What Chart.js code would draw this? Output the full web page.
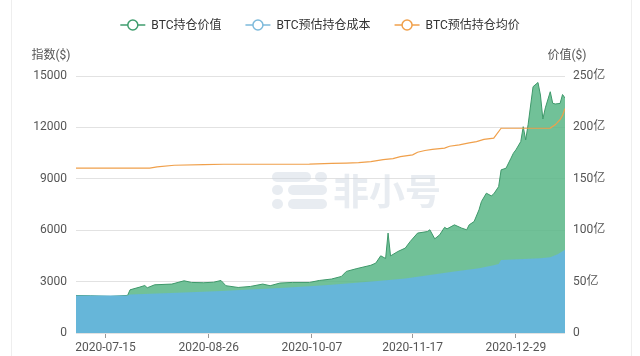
<!DOCTYPE html>
<html><head><meta charset="utf-8">
<script src="https://cdn.jsdelivr.net/npm/chart.js@4/dist/chart.umd.min.js"></script>
<style>
html,body{margin:0;padding:0;background:#fff;}
#wrap{position:relative;width:640px;height:356px;overflow:hidden;}
.edge{position:absolute;top:0;bottom:0;width:0;border-left:1px solid #eeeeee;}
canvas{position:absolute;left:0;top:0;}
</style></head>
<body><div id="wrap"><div class="edge" style="left:11px"></div><div class="edge" style="left:631px"></div><canvas id="c" width="640" height="356"></canvas></div>
<script>
// ---- data ----
const seriesNames = ['BTC持仓价值', 'BTC预估持仓成本', 'BTC预估持仓均价'];
const xTickLabels = ['2020-07-15', '2020-08-26', '2020-10-07', '2020-11-17', '2020-12-29'];
const startDate = '2020-07-03';
const endDate = '2021-01-18';

// BTC持仓价值 (亿, right axis)
const valueDates = ['2020-07-03','2020-07-09','2020-07-17','2020-07-24','2020-07-25','2020-07-29','2020-07-31','2020-08-01','2020-08-04','2020-08-11','2020-08-16','2020-08-19','2020-08-24','2020-08-28','2020-08-31','2020-09-02','2020-09-07','2020-09-12','2020-09-17','2020-09-20','2020-09-24','2020-09-29','2020-10-06','2020-10-10','2020-10-15','2020-10-19','2020-10-21','2020-10-25','2020-10-31','2020-11-02','2020-11-04','2020-11-06','2020-11-07','2020-11-08','2020-11-11','2020-11-14','2020-11-16','2020-11-19','2020-11-23','2020-11-24','2020-11-26','2020-11-28','2020-11-30','2020-12-01','2020-12-04','2020-12-07','2020-12-09','2020-12-10','2020-12-12','2020-12-14','2020-12-15','2020-12-17','2020-12-19','2020-12-20','2020-12-22','2020-12-23','2020-12-25','2020-12-27','2020-12-28','2020-12-29','2020-12-31','2021-01-01','2021-01-02','2021-01-03','2021-01-05','2021-01-07','2021-01-08','2021-01-09','2021-01-10','2021-01-12','2021-01-13','2021-01-14','2021-01-16','2021-01-17','2021-01-18'];
const valueData = [36.5,36.2,35.6,36.6,42.0,44.7,46.2,44.0,46.9,47.6,50.8,49.2,48.9,49.4,51.1,46.0,44.3,45.3,47.6,46.0,48.6,49.2,49.2,51.1,52.5,55.0,59.9,62.5,65.9,68.0,75.1,72.5,97.2,75.0,79.3,82.6,89.0,97.2,98.7,100.4,91.6,95.5,102.8,101.3,105.2,102.0,100.4,105.2,108.4,119.8,127.9,136.0,133.4,135.3,142.4,158.7,160.3,170.0,174.9,178.1,186.2,200.7,187.8,203.0,239.6,243.7,231.5,208.2,219.0,234.7,223.5,222.8,223.3,232.0,228.6];

// BTC预估持仓成本 (亿, right axis)
const costDates = ['2020-07-03','2020-07-24','2020-07-25','2020-08-16','2020-08-31','2020-09-12','2020-09-24','2020-10-06','2020-10-15','2020-10-25','2020-11-04','2020-11-14','2020-11-24','2020-12-04','2020-12-14','2020-12-20','2020-12-22','2020-12-23','2021-01-08','2021-01-12','2021-01-15','2021-01-18'];
const costData = [36.6,36.5,37.5,39.5,40.8,42.3,43.8,45.5,47.0,48.8,50.8,53.0,56.5,59.8,63.0,66.0,67.0,71.0,72.8,73.8,76.5,80.9];

// BTC预估持仓均价 ($, left axis)
const avgDates = ['2020-07-03','2020-08-02','2020-08-05','2020-08-12','2020-08-24','2020-09-01','2020-10-06','2020-10-15','2020-10-21','2020-10-26','2020-10-31','2020-11-05','2020-11-09','2020-11-12','2020-11-17','2020-11-19','2020-11-22','2020-11-25','2020-11-30','2020-12-02','2020-12-06','2020-12-10','2020-12-13','2020-12-16','2020-12-20','2020-12-23','2021-01-12','2021-01-14','2021-01-16','2021-01-17','2021-01-18'];
const avgData = [9620,9620,9700,9790,9830,9850,9860,9900,9920,9940,10000,10120,10180,10290,10400,10550,10650,10720,10790,10900,10980,11100,11170,11300,11370,11950,11960,12150,12450,12700,13100];

// ---- helpers ----
const DAY = 86400000;
const t0 = Date.parse(startDate);
const dayOf = d => Math.round((Date.parse(d) - t0) / DAY);
const toPoints = (dates, vals) => dates.map((d, i) => ({x: dayOf(d), y: vals[i]}));
const labelByDay = {};
xTickLabels.forEach(d => { labelByDay[dayOf(d)] = d; });

const FONT = "Roboto, 'Noto Sans CJK SC', 'Noto Sans', sans-serif";
const legendColors = ['#3f9d6e', '#7dbadb', '#f0a04b'];

function pill(ctx, x, y, w, h) {
  const r = h / 2;
  ctx.beginPath();
  ctx.moveTo(x + r, y);
  ctx.lineTo(x + w - r, y);
  ctx.arc(x + w - r, y + r, r, -Math.PI / 2, Math.PI / 2);
  ctx.lineTo(x + r, y + h);
  ctx.arc(x + r, y + r, r, Math.PI / 2, Math.PI * 1.5);
  ctx.closePath();
  ctx.fill();
}

const decor = {
  id: 'decor',
  beforeDatasetsDraw(chart) {
    const ctx = chart.ctx;
    ctx.save();
    ctx.fillStyle = 'rgba(205,212,224,0.45)';
    pill(ctx, 272, 172, 39, 10);
    pill(ctx, 315, 172, 12, 10);
    pill(ctx, 272, 185, 11, 10);
    pill(ctx, 288, 185, 39, 10);
    pill(ctx, 272, 199, 11, 10);
    pill(ctx, 288, 199, 39, 10);
    ctx.font = "bold 36px 'Noto Sans CJK SC', sans-serif";
    ctx.textAlign = 'left';
    ctx.textBaseline = 'middle';
    ctx.fillText('非小号', 333, 191);
    ctx.restore();
  },
  afterDraw(chart) {
    const ctx = chart.ctx;
    ctx.save();
    ctx.font = '12px ' + FONT;
    ctx.fillStyle = '#555';
    ctx.textBaseline = 'middle';
    ctx.textAlign = 'center';
    ctx.fillText('指数($)', 51, 56);
    ctx.fillText('价值($)', 567, 56);
    // legend
    ctx.font = '12px ' + FONT;
    const gap = 24, box = 25, sp = 6;
    const widths = seriesNames.map(n => box + sp + ctx.measureText(n).width);
    const total = widths.reduce((a, b) => a + b, 0) + gap * (seriesNames.length - 1);
    let x = (chart.width - total) / 2;
    const y = 25;
    seriesNames.forEach((n, i) => {
      ctx.strokeStyle = legendColors[i];
      ctx.lineWidth = 1.5;
      ctx.beginPath(); ctx.moveTo(x, y); ctx.lineTo(x + box, y); ctx.stroke();
      ctx.beginPath(); ctx.arc(x + box / 2, y, 5, 0, Math.PI * 2);
      ctx.fillStyle = '#fff'; ctx.fill(); ctx.stroke();
      ctx.fillStyle = '#333';
      ctx.textAlign = 'left';
      ctx.fillText(n, x + box + sp, y + 0.5);
      x += widths[i] + gap;
    });
    ctx.restore();
  }
};

new Chart(document.getElementById('c'), {
  type: 'line',
  data: {
    datasets: [
      {
        label: seriesNames[2], data: toPoints(avgDates, avgData), yAxisID: 'y',
        borderColor: '#f0a04b', borderWidth: 1.2, fill: false, order: 0
      },
      {
        label: seriesNames[1], data: toPoints(costDates, costData), yAxisID: 'y1',
        borderColor: 'rgb(102,182,217)', borderWidth: 0, backgroundColor: 'rgb(102,182,217)',
        fill: 'origin', order: 1
      },
      {
        label: seriesNames[0], data: toPoints(valueDates, valueData), yAxisID: 'y1',
        borderColor: 'rgb(62,152,106)', borderWidth: 1, backgroundColor: 'rgba(88,182,134,0.85)',
        fill: 'origin', order: 2
      }
    ]
  },
  options: {
    responsive: false,
    animation: false,
    events: [],
    devicePixelRatio: 1,
    layout: {padding: {top: 76, left: 0, right: 0, bottom: 0}},
    elements: {point: {radius: 0}, line: {tension: 0}},
    plugins: {legend: {display: false}, tooltip: {enabled: false}},
    scales: {
      x: {
        type: 'linear', min: 0, max: dayOf(endDate),
        afterBuildTicks: s => { s.ticks = xTickLabels.map(d => ({value: dayOf(d)})); },
        afterFit: s => { s.height = 23; },
        ticks: {
          autoSkip: false, maxRotation: 0, padding: 3, color: '#555',
          font: {family: FONT, size: 12},
          callback: v => labelByDay[v] || ''
        },
        grid: {display: true, drawOnChartArea: false, drawTicks: true, tickLength: 5, color: '#999'},
        border: {display: false}
      },
      y: {
        position: 'left', min: 0, max: 15000,
        afterFit: s => { s.width = 76; },
        ticks: {stepSize: 3000, padding: 9, color: '#555', font: {family: FONT, size: 12},
          callback: v => String(v)},
        grid: {color: '#e2e2e2', drawTicks: false},
        border: {display: false}
      },
      y1: {
        position: 'right', min: 0, max: 250,
        afterFit: s => { s.width = 75; },
        ticks: {stepSize: 50, padding: 8, color: '#555', font: {family: FONT, size: 12},
          callback: v => v === 0 ? '0' : v + '亿'},
        grid: {drawOnChartArea: false, drawTicks: false},
        border: {display: false}
      }
    }
  },
  plugins: [decor]
});
</script>
</body></html>
